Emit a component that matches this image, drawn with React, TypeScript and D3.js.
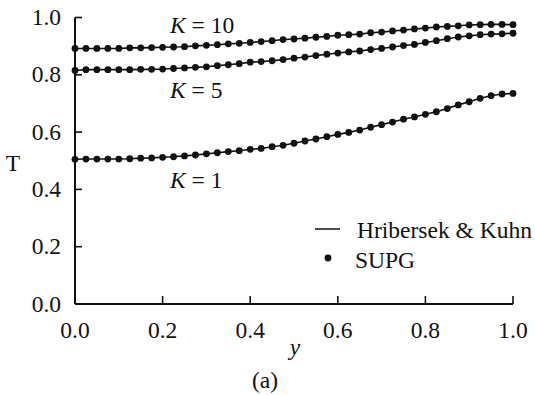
import React from "react";
import * as d3 from "d3";

const yPositions: number[] = d3.range(41).map((i) => i / 40);

const tK10: number[] = [
  0.892, 0.892, 0.892, 0.892, 0.892, 0.894, 0.894, 0.895, 0.896, 0.897,
  0.898, 0.901, 0.903, 0.905, 0.908, 0.91, 0.913, 0.916, 0.919, 0.923,
  0.925, 0.928, 0.931, 0.934, 0.938, 0.94, 0.942, 0.947, 0.949, 0.953,
  0.956, 0.96, 0.963, 0.967, 0.969, 0.971, 0.974, 0.975, 0.976, 0.976,
  0.975,
];

const tK5: number[] = [
  0.815, 0.818, 0.818, 0.818, 0.818, 0.818, 0.819, 0.819, 0.82, 0.822,
  0.824, 0.826, 0.828, 0.832, 0.835, 0.839, 0.844, 0.846, 0.849, 0.853,
  0.858, 0.862, 0.867, 0.872, 0.876, 0.88, 0.883, 0.888, 0.892, 0.897,
  0.902, 0.906, 0.913, 0.919, 0.926, 0.932, 0.936, 0.94, 0.942, 0.943,
  0.945,
];

const tK1: number[] = [
  0.505, 0.506, 0.506, 0.506, 0.506, 0.507, 0.509, 0.51, 0.512, 0.514,
  0.517, 0.52, 0.524, 0.528, 0.532, 0.535, 0.54, 0.543, 0.549, 0.554,
  0.561, 0.569, 0.576, 0.584, 0.592, 0.599, 0.607, 0.617, 0.626, 0.635,
  0.645, 0.653, 0.662, 0.671, 0.682, 0.695, 0.706, 0.718, 0.727, 0.733,
  0.735,
];

const seriesLabels: string[] = ["10", "5", "1"];
const xTicks: number[] = [0, 0.2, 0.4, 0.6, 0.8, 1.0];
const yTicks: number[] = [0, 0.2, 0.4, 0.6, 0.8, 1.0];
const legendLabels: string[] = ["Hribersek & Kuhn", "SUPG"];

const W = 535;
const H = 395;
const FONT = "'Liberation Serif', 'Times New Roman', serif";
const FS = 23.5;

export default function App() {
  const x = d3.scaleLinear().domain([0, 1]).range([75, 513]);
  const y = d3.scaleLinear().domain([0, 1]).range([304, 17.5]);
  const series = [tK10, tK5, tK1];
  const line = d3
    .line<number>()
    .x((_, i) => x(yPositions[i]))
    .y((d) => y(d));

  const labelPos = [
    { lx: 170, ly: 33 },
    { lx: 170, ly: 98 },
    { lx: 170, ly: 188 },
  ];

  return (
    <svg
      width={W}
      height={H}
      style={{ position: "absolute", left: 0, top: 0, background: "#fff" }}
      fontFamily={FONT}
    >
      <rect x={0} y={0} width={W} height={H} fill="#fff" />
      {/* axes */}
      <line x1={x(0)} x2={x(0)} y1={y(0)} y2={y(1)} stroke="#111" strokeWidth={2} />
      <line x1={x(0)} x2={x(1)} y1={y(0)} y2={y(0)} stroke="#111" strokeWidth={2} />
      {yTicks.map((t) => (
        <g key={"yt" + t}>
          {t > 0 && (
            <line x1={x(0)} x2={x(0) + 7} y1={y(t)} y2={y(t)} stroke="#111" strokeWidth={1.6} />
          )}
          <text x={61} y={y(t) + 7.5} textAnchor="end" fontSize={FS} fill="#111">
            {t.toFixed(1)}
          </text>
        </g>
      ))}
      {xTicks.map((t) => (
        <g key={"xt" + t}>
          {t > 0 && (
            <line x1={x(t)} x2={x(t)} y1={y(0)} y2={y(0) - 8} stroke="#111" strokeWidth={1.6} />
          )}
          <text x={x(t)} y={338} textAnchor="middle" fontSize={FS} fill="#111">
            {t.toFixed(1)}
          </text>
        </g>
      ))}
      {/* axis titles */}
      <text x={13} y={171} textAnchor="middle" fontSize={FS} fill="#111">
        T
      </text>
      <text x={295} y={355} textAnchor="middle" fontSize={FS} fontStyle="italic" fill="#111">
        y
      </text>
      <text x={265} y={388} textAnchor="middle" fontSize={FS} fill="#111">
        (a)
      </text>

      {/* series */}
      {series.map((s, si) => (
        <g key={"s" + si}>
          <path d={line(s) || ""} fill="none" stroke="#111" strokeWidth={1.6} />
          {s.map((v, i) => (
            <circle key={i} cx={x(yPositions[i])} cy={y(v)} r={3.4} fill="#111" />
          ))}
          <text x={labelPos[si].lx} y={labelPos[si].ly} fontSize={FS} fill="#111">
            <tspan fontStyle="italic">K</tspan>
            <tspan> = {seriesLabels[si]}</tspan>
          </text>
        </g>
      ))}

      {/* legend */}
      <line x1={315} x2={340} y1={229} y2={229} stroke="#111" strokeWidth={1.5} />
      <text x={357} y={238} fontSize={FS} fill="#111">
        {legendLabels[0]}
      </text>
      <circle cx={328} cy={258} r={3.4} fill="#111" />
      <text x={355} y={268} fontSize={FS} fill="#111">
        {legendLabels[1]}
      </text>
    </svg>
  );
}
